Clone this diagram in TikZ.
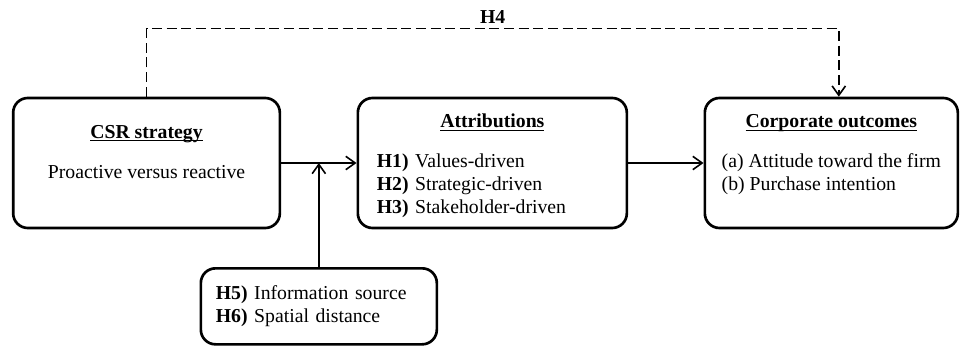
\documentclass[tikz,border=0pt]{standalone}
\usepackage{fontspec}
\setmainfont{Liberation Serif}
\usetikzlibrary{arrows.meta,positioning}
\newsavebox{\titlebox}
\newcommand{\boxtitle}[1]{\sbox{\titlebox}{\textbf{#1}}\rlap{\rule[-2.6pt]{\wd\titlebox}{0.8pt}}\usebox{\titlebox}}

\begin{document}
\begin{tikzpicture}[x=0.75pt, y=-0.75pt, font=\fontsize{14.8}{16.9}\selectfont,
    >={Straight Barb[length=7pt,width=10pt]},
    box/.style={rectangle, draw, line width=2pt, rounded corners=11pt, minimum height=97.5pt},
    link/.style={line width=1.2pt}]
    \useasboundingbox (0,0) rectangle (960,346);

    \node[box, minimum width=200pt, align=center] (csr) at (146.5,163) {\boxtitle{CSR strategy}\\[13.5pt] Proactive versus reactive\\ \mbox{}};
    \node[box, right=56.5pt of csr, text width=173.25pt, inner xsep=14.25pt, align=left] (attr) {\makebox[\linewidth]{\rule{0pt}{14pt}\boxtitle{Attributions}}\\[13.5pt] \textbf{H1)} Values-driven\\ \textbf{H2)} Strategic-driven\\ \textbf{H3)} Stakeholder-driven};
    \node[box, right=56.5pt of attr, minimum width=189.75pt, align=center] (corp) {\boxtitle{Corporate outcomes}\\[13.5pt]
        \begin{tabular}[t]{@{}l@{}}
            (a) Attitude toward the firm\\
            (b) Purchase intention
        \end{tabular}\\[10pt] \mbox{}};

    \draw[link, ->] (csr) -- coordinate[midway] (mid) (attr);
    \draw[link, ->] (attr) -- (corp);

    \node[box, below=78pt of mid, minimum width=177pt, minimum height=57pt, text width=154.5pt, inner xsep=11.25pt, align=left] (mod) {\textbf{H5)} Information source\\ \textbf{H6)} Spatial distance};
    \draw[link, ->] (mod.north) -- (mid);

    % direct effect
    \draw[link, dash pattern=on 7.5pt off 3.5pt, ->] (csr.north) -- ++(0,-68) -| node[pos=0.25, above] {\textbf{H4}} ([xshift=5.6pt]corp.north);
\end{tikzpicture}
\end{document}
